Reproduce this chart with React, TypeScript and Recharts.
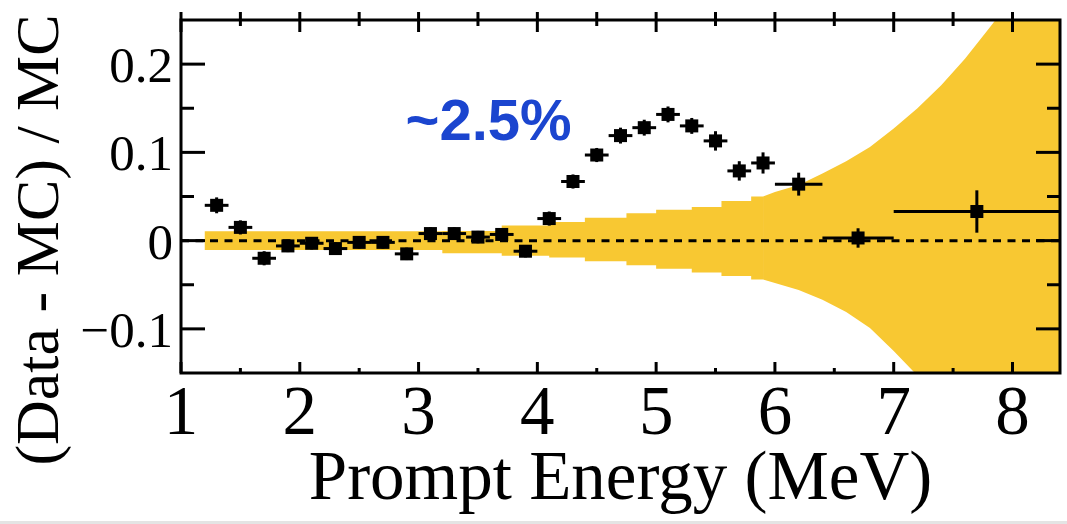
import {
  ComposedChart,
  Area,
  Scatter,
  ErrorBar,
  XAxis,
  YAxis,
  ReferenceLine,
  ReferenceArea,
  ReferenceDot,
} from 'recharts';

// data points (bin centres, MeV) and (Data - MC) / MC
const energy = [
  1.3, 1.5, 1.7, 1.9, 2.1, 2.3, 2.5, 2.7, 2.9, 3.1, 3.3, 3.5, 3.7, 3.9, 4.1, 4.3, 4.5, 4.7, 4.9, 5.1,
  5.3, 5.5, 5.7, 5.9, 6.2, 6.7, 7.7,
];
const ratio = [
  0.04, 0.015, -0.02, -0.006, -0.003, -0.009, -0.002, -0.002, -0.015, 0.008, 0.008, 0.004, 0.007,
  -0.012, 0.025, 0.067, 0.097, 0.119, 0.128, 0.143, 0.13, 0.113, 0.079, 0.088, 0.064, 0.003, 0.033,
];
const energyErr = [
  0.1, 0.1, 0.1, 0.1, 0.1, 0.1, 0.1, 0.1, 0.1, 0.1, 0.1, 0.1, 0.1, 0.1, 0.1, 0.1, 0.1, 0.1, 0.1, 0.1,
  0.1, 0.1, 0.1, 0.1, 0.2, 0.3, 0.7,
];
const ratioErr = [
  0.009, 0.008, 0.008, 0.007, 0.007, 0.007, 0.007, 0.007, 0.007, 0.007, 0.007, 0.007, 0.007, 0.007,
  0.008, 0.008, 0.008, 0.009, 0.009, 0.009, 0.009, 0.011, 0.011, 0.012, 0.013, 0.011, 0.024,
];

// systematic band, coarse (stepped) part
const bandStepE = [1.2, 3.2, 3.7, 4.1, 4.4, 4.75, 5.0, 5.3, 5.55, 5.8, 5.9];
const bandStepLo = [-0.0105, -0.0143, -0.017, -0.019, -0.0235, -0.028, -0.032, -0.036, -0.04, -0.044, -0.044];
const bandStepHi = [0.0105, 0.011, 0.017, 0.021, 0.026, 0.031, 0.035, 0.038, 0.045, 0.05, 0.05];

// systematic band, smooth part at high energy
const bandE = [5.9, 6.0, 6.2, 6.4, 6.6, 6.8, 7.0, 7.2, 7.4, 7.6, 7.8, 8.0, 8.2, 8.4];
const bandLo = [-0.044, -0.048, -0.056, -0.067, -0.081, -0.099, -0.125, -0.153, -0.18, -0.21, -0.24, -0.27, -0.3, -0.33];
const bandHi = [0.05, 0.055, 0.063, 0.076, 0.09, 0.106, 0.127, 0.15, 0.176, 0.206, 0.24, 0.275, 0.31, 0.35];

const xTicks = [1, 1.5, 2, 2.5, 3, 3.5, 4, 4.5, 5, 5.5, 6, 6.5, 7, 7.5, 8];
const yTicks = [-0.1, -0.05, 0, 0.05, 0.1, 0.15, 0.2];

const points = energy.map((e, i) => ({ e, v: ratio[i], ex: energyErr[i], ey: ratioErr[i] }));
const stepBand = bandStepE.map((e, i) => ({ e, band: [bandStepLo[i], bandStepHi[i]] }));
const smoothBand = bandE.map((e, i) => ({ e, band: [bandLo[i], bandHi[i]] }));

const W = 1067;
const H = 524;
const LEFT = 181;
const RIGHT = 1060;
const TOP = 20;
const BOTTOM = 373;
const SERIF = '"Liberation Serif", "Times New Roman", serif';

const isMajor = (v: number, step: number) => Math.abs(Math.round(v / step) * step - v) < 1e-6;

const XTick = (props: any) => {
  const x = props.x;
  const v = props.payload.value;
  const major = isMajor(v, 1);
  const len = major ? 11 : 5;
  return (
    <g>
      <line x1={x} x2={x} y1={BOTTOM} y2={BOTTOM - len} stroke="#000" strokeWidth={3} />
      <line x1={x} x2={x} y1={TOP - 8} y2={TOP + (major ? 12 : 6)} stroke="#000" strokeWidth={3} />
      {major && (
        <text x={x} y={434} textAnchor="middle" fontFamily={SERIF} fontSize={69} fill="#000">
          {v}
        </text>
      )}
    </g>
  );
};

const YTick = (props: any) => {
  const y = props.y;
  const v = props.payload.value;
  const major = isMajor(v, 0.1);
  const len = major ? 24 : 13;
  const label = Math.abs(v) < 1e-9 ? '0' : v < 0 ? '\u2212' + Math.abs(v).toFixed(1) : v.toFixed(1);
  return (
    <g>
      <line x1={LEFT} x2={LEFT + len} y1={y} y2={y} stroke="#000" strokeWidth={3} />
      <line x1={RIGHT - len} x2={RIGHT} y1={y} y2={y} stroke="#000" strokeWidth={3} />
      {major && (
        <text x={LEFT - 8} y={y + 18} textAnchor="end" fontFamily={SERIF} fontSize={51} fill="#000">
          {label}
        </text>
      )}
    </g>
  );
};

const Square = (props: any) => (
  <rect x={props.cx - 6.5} y={props.cy - 6.5} width={13} height={13} fill="#000" />
);

const App = () => {
  return (
    <div style={{ position: 'absolute', left: 0, top: 0, width: W, height: H, background: '#fff' }}>
      <ComposedChart width={W} height={H} margin={{ top: TOP, right: W - RIGHT, bottom: 0, left: 0 }}>
        <XAxis
          dataKey="e"
          type="number"
          domain={[1, 8.4]}
          ticks={xTicks}
          interval={0}
          allowDataOverflow
          height={H - BOTTOM}
          axisLine={false}
          tickLine={false}
          tick={<XTick />}
          label={{
            content: () => (
              <text x={(LEFT + RIGHT) / 2} y={499} textAnchor="middle" fontFamily={SERIF} fontSize={69} fill="#000">
                Prompt Energy (MeV)
              </text>
            ),
          }}
        />
        <YAxis
          type="number"
          domain={[-0.15, 0.25]}
          ticks={yTicks}
          interval={0}
          allowDataOverflow
          width={LEFT}
          axisLine={false}
          tickLine={false}
          tick={<YTick />}
          label={{
            content: () => (
              <text
                transform="translate(58, 240) rotate(-90)"
                textAnchor="middle"
                fontFamily={SERIF}
                fontSize={62}
                fill="#000"
              >
                (Data - MC) / MC
              </text>
            ),
          }}
        />
        <Area
          data={stepBand}
          dataKey="band"
          type="stepAfter"
          fill="#f8c832"
          fillOpacity={1}
          stroke="none"
          isAnimationActive={false}
        />
        <Area
          data={smoothBand}
          dataKey="band"
          type="linear"
          fill="#f8c832"
          fillOpacity={1}
          stroke="none"
          isAnimationActive={false}
        />
        <ReferenceLine y={0} stroke="#000" strokeWidth={3} strokeDasharray="8 6.5" />
        <Scatter data={points} dataKey="v" shape={<Square />} isAnimationActive={false}>
          <ErrorBar dataKey="ey" direction="y" width={0} stroke="#000" strokeWidth={3} isAnimationActive={false} />
          <ErrorBar dataKey="ex" direction="x" width={0} stroke="#000" strokeWidth={3} isAnimationActive={false} />
        </Scatter>
        <ReferenceDot
          x={3.59}
          y={0.13}
          r={0}
          label={{
            content: (p: any) => (
              <text
                x={p.viewBox ? p.viewBox.x + (p.viewBox.width || 0) / 2 : 0}
                y={140}
                textAnchor="middle"
                fontFamily='"Liberation Sans", Arial, sans-serif'
                fontWeight="bold"
                fontSize={58}
                fill="#1b45cf"
              >
                ~2.5%
              </text>
            ),
          }}
        />
        <ReferenceArea x1={1} x2={8.4} y1={-0.15} y2={0.25} fill="none" stroke="#000" strokeWidth={3} />
      </ComposedChart>
      <div style={{ position: 'absolute', left: 0, top: 521, width: W, height: 3, background: '#e4e4e4' }} />
    </div>
  );
};

export default App;
